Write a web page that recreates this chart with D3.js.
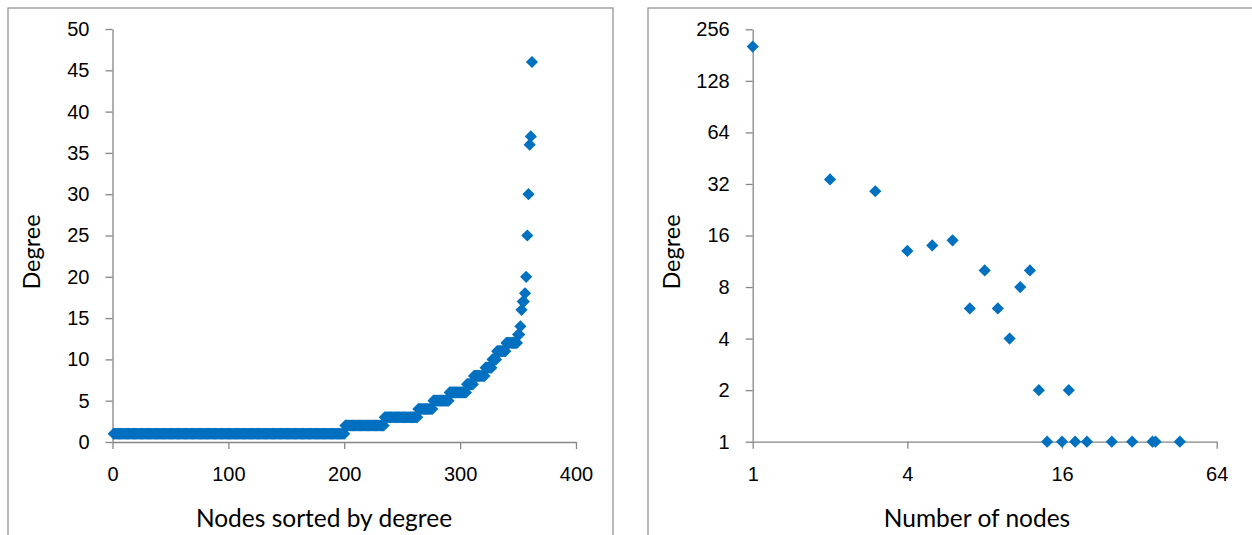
<!DOCTYPE html>
<html>
<head>
<meta charset="utf-8">
<script src="https://cdn.jsdelivr.net/npm/d3@7"></script>
<style>
  body { margin: 0; background: #fff; }
  svg { display: block; font-family: Lato, "Noto Sans", sans-serif; }
  .axis path, .axis line { stroke: #868686; stroke-width: 1.3; }
  .axis text { font-size: 20px; fill: #000; }
  .title { font-size: 24.5px; fill: #000; }
  .ytitle { font-size: 23.5px; fill: #000; }
</style>
</head>
<body>
<svg id="chart" width="1252" height="535"></svg>
<script>
// left chart: sorted degrees, given as runs (degree level, how many nodes)
const runDegrees = [1, 2, 3, 4, 5, 6, 7, 8, 9, 10, 11, 12, 13, 14, 16, 17, 18, 20, 25, 30, 36, 37, 46];
const runLengths = [200, 34, 29, 13, 14, 15, 6, 10, 6, 4, 8, 10, 2, 1, 1, 2, 1, 1, 1, 1, 1, 1, 1];
const leftXTicks = [0, 100, 200, 300, 400];
const leftYTicks = [0, 5, 10, 15, 20, 25, 30, 35, 40, 45, 50];

// right chart: log-log scatter
const rightX = [1, 2, 3, 4, 5, 6, 7, 8, 9, 10, 11, 12, 13, 14, 16, 17, 18, 20, 25, 30, 36, 37, 46];
const rightY = [203, 34, 29, 13, 14, 15, 6, 10, 6, 4, 8, 10, 2, 1, 1, 2, 1, 1, 1, 1, 1, 1, 1];
const rightXTicks = [1, 4, 16, 64];
const rightYTicks = [1, 2, 4, 8, 16, 32, 64, 128, 256];

const blue = "#0070c0";
const svg = d3.select("#chart");

// expand runs into one point per node (x starts at 1)
let leftData = [];
runDegrees.forEach((d, i) => {
    for (let k = 0; k < runLengths[i]; k++) leftData.push(d);
});

const diamond = d3.symbol(d3.symbolSquare).size(74);

// panel frames
svg.append("rect").attr("x", 8).attr("y", 8).attr("width", 605).attr("height", 540)
    .attr("fill", "none").attr("stroke", "#8c8c8c").attr("stroke-width", 1.2);
svg.append("rect").attr("x", 648).attr("y", 8).attr("width", 640).attr("height", 540)
    .attr("fill", "none").attr("stroke", "#8c8c8c").attr("stroke-width", 1.2);

// ---- left chart
let xL = d3.scaleLinear().domain([0, 400]).range([112.5, 576]);
let yL = d3.scaleLinear().domain([0, 50]).range([442, 29]);

svg.append("g").attr("class", "axis")
    .attr("transform", "translate(0,442)")
    .call(d3.axisBottom(xL).tickValues(leftXTicks).tickSize(7).tickSizeOuter(0).tickPadding(18));
svg.append("g").attr("class", "axis")
    .attr("transform", "translate(112.5,0)")
    .call(d3.axisLeft(yL).tickValues(leftYTicks).tickSize(7).tickSizeOuter(0).tickPadding(16));

svg.append("g").selectAll("path")
    .data(leftData)
    .enter().append("path")
    .attr("d", diamond)
    .attr("fill", blue)
    .attr("transform", (d, i) => "translate(" + xL(i + 1) + "," + yL(d) + ")rotate(45)");

svg.append("text").attr("class", "title")
    .attr("text-anchor", "middle")
    .attr("x", 324).attr("y", 527)
    .text("Nodes sorted by degree");
svg.append("text").attr("class", "ytitle")
    .attr("text-anchor", "middle")
    .attr("transform", "translate(39.5,252)rotate(-90)")
    .text("Degree");

// ---- right chart
let xR = d3.scaleLog().base(2).domain([1, 64]).range([752.7, 1216.7]);
let yR = d3.scaleLog().base(2).domain([1, 256]).range([441.7, 29.3]);

svg.append("g").attr("class", "axis")
    .attr("transform", "translate(0,441.7)")
    .call(d3.axisBottom(xR).tickValues(rightXTicks).tickFormat(d3.format("d")).tickSize(7).tickSizeOuter(0).tickPadding(18));
svg.append("g").attr("class", "axis")
    .attr("transform", "translate(752.7,0)")
    .call(d3.axisLeft(yR).tickValues(rightYTicks).tickFormat(d3.format("d")).tickSize(7).tickSizeOuter(0).tickPadding(16));

svg.append("g").selectAll("path")
    .data(rightX)
    .enter().append("path")
    .attr("d", diamond)
    .attr("fill", blue)
    .attr("transform", (d, i) => "translate(" + xR(d) + "," + yR(rightY[i]) + ")rotate(45)");

svg.append("text").attr("class", "title")
    .attr("text-anchor", "middle")
    .attr("x", 977).attr("y", 527)
    .text("Number of nodes");
svg.append("text").attr("class", "ytitle")
    .attr("text-anchor", "middle")
    .attr("transform", "translate(679.5,252)rotate(-90)")
    .text("Degree");
</script>
</body>
</html>
